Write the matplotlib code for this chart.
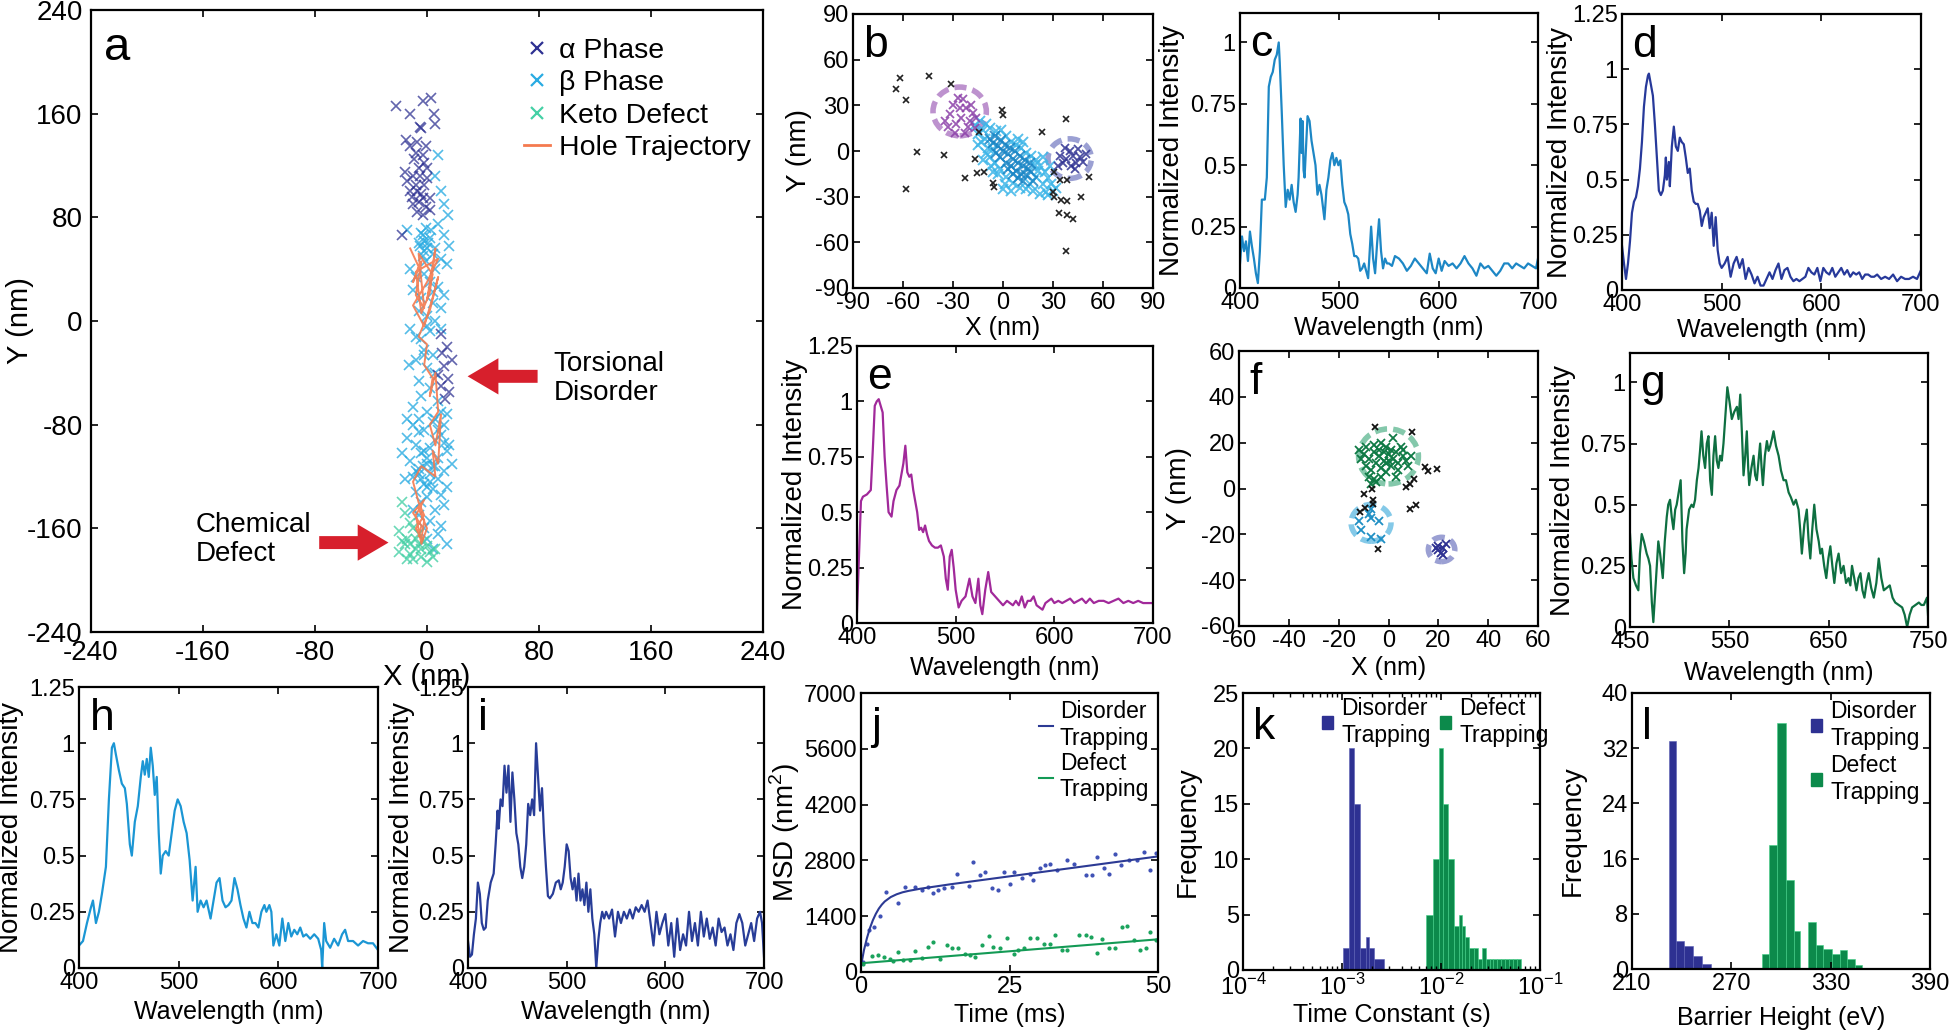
import numpy as np
import matplotlib
matplotlib.use("Agg")
import matplotlib.pyplot as plt
import matplotlib.patches as mpatches
from matplotlib.lines import Line2D

plt.rcParams["font.family"] = ["Liberation Sans", "DejaVu Sans"]
plt.rcParams["mathtext.fontset"] = "custom"
plt.rcParams["mathtext.rm"] = "Liberation Sans"
plt.rcParams["axes.linewidth"] = 1.6

W, H = 1954, 1034

# ---------------- panel a: localisation map ----------------
alpha_pts = [(-22, 166), (-12, 160), (-3, 170), (3, 172), (-5, 150), (-4, 149), (5, 160), (6, 152),
             (-15, 140), (-12, 135), (-8, 130), (-3, 128), (-16, 115), (-10, 112), (-6, 118), (-2, 122),
             (0, 110), (-8, 105), (-12, 100), (-4, 98), (-2, 105), (-6, 92), (-10, 90), (-1, 88), (2, 86),
             (-7, 84), (-3, 95), (-14, 108), (-9, 125), (-1, 135), (-5, 112), (-7, 100), (-3, 82), (0, 118),
             (-11, 96), (-18, 66), (-7, 138), (2, 95), (10, -10), (14, -20), (18, -30), (12, -35),
             (15, -45), (10, -50), (13, -60), (16, -55), (8, -42), (11, -25)]
beta_pts = [(8, 128), (6, 112), (10, 100), (12, 90), (15, 82), (8, 75), (-1, 72), (-4, 68), (2, 64), (-6, 60),
            (0, 56), (4, 52), (-3, 50), (10, 48), (14, 44), (-12, 40), (6, 40), (-8, 34), (2, 30), (8, 26),
            (-10, 24), (12, 20), (-4, 18), (4, 14), (10, 10), (-6, 8), (0, 4), (6, 0), (-12, -6), (2, -8),
            (-4, -14), (10, -6), (-2, -22), (4, -26), (-8, -30), (-13, -34), (0, -36), (6, -40), (-6, -46),
            (2, -52), (-4, -58), (8, -62), (-10, -66), (0, -70), (14, -72), (-6, -76), (4, -78), (12, -80),
            (-2, -84), (10, -88), (-14, -90), (6, -92), (-8, -96), (2, -98), (14, -100), (-4, -102),
            (8, -106), (-12, -108), (0, -110), (6, -112), (-6, -114), (12, -116), (2, -118), (-10, -120),
            (8, -122), (-2, -126), (14, -128), (4, -130), (-8, -132), (10, -134), (0, -136), (-4, -140),
            (12, -142), (6, -146), (-6, -150), (2, -154), (10, -158), (-2, -160), (8, -164), (0, -168),
            (14, -172), (4, -176), (-10, -146), (-16, -122), (-18, -102), (-14, -76), (16, -96), (18, -110),
            (-2, 62), (-3, 66), (-5, 58), (1, 60), (-2, 54), (3, 70), (-1, 46), (-6, -118), (-3, -112),
            (0, -106), (-4, -122), (2, -124), (-8, -116), (0, -128), (4, -112), (-2, -100), (10, -70),
            (6, -76), (-6, -86), (8, -84), (12, -94), (-10, -80), (0, -4), (-2, -26), (-8, -12), (4, 22),
            (-2, 36), (6, 56), (12, 66), (16, 58), (-14, 70)]
keto_pts = [(-18, -140), (-16, -148), (-20, -162), (-14, -168), (-10, -160), (-6, -172), (-20, -178),
            (-12, -180), (-4, -182), (0, -186), (-8, -176), (-16, -172), (-2, -170), (2, -178), (-10, -184),
            (-6, -164), (-12, -156), (4, -182), (-14, -184), (-18, -170), (-8, -168), (-4, -176), (0, -174),
            (-12, -172), (6, -176)]
hole_path = [(-12, 56), (-6, 42), (-10, 30), (-4, 46), (-8, 20), (-2, 10), (-6, 52), (4, 36), (0, 16), (6, 56),
             (2, 22), (-4, 6), (-8, 38), (8, 48), (0, 30), (-10, 12), (-2, -4), (4, 18), (8, 34), (2, 8),
             (-6, -12), (0, -18), (-2, -34), (4, -44), (2, -58), (6, -40), (8, -70), (2, -80), (6, -96),
             (10, -72), (8, -110), (4, -100), (6, -120), (-4, -112), (-10, -124), (-6, -140), (-2, -150),
             (-8, -160), (-4, -168), (-2, -154), (-6, -144), (0, -160), (-4, -172), (-8, -150), (-2, -138),
             (-10, -148), (-4, -158), (-6, -166)]

# ---------------- panel b ----------------
b_purple = [(-30, 30), (-25, 22), (-22, 28), (-28, 18), (-20, 20), (-24, 34), (-18, 25), (-32, 24), (-26, 28),
            (-21, 16), (-35, 20), (-29, 12), (-16, 22), (-23, 12), (-27, 35), (-19, 30), (-33, 16), (-17, 15)]
b_navy = [(38, -5), (42, -3), (44, -8), (36, -8), (40, 0), (46, -4), (48, -7), (34, -3), (41, -10), (37, 2),
          (45, 1), (50, -2), (43, -12), (33, -10)]
b_inner = [(0, 0), (3, -2), (6, -5), (9, -8), (12, -10), (-3, 3), (-6, 5), (2, -8), (5, -10), (8, -13),
           (11, -15), (-2, -4), (4, 2), (7, 0), (10, -3), (13, -6), (15, -12), (1, 4), (-4, -1), (6, -15),
           (14, -16), (17, -14), (-8, 8), (-1, 7), (9, -18), (3, -12), (16, -8), (12, -20), (18, -20), (-5, 10)]
b_outer = [(-17, 17), (-14, 20), (-12, 14), (-10, 18), (-15, 11), (-8, 15), (-11, 8), (-6, 1), (-9, 2),
           (-13, 6), (-4, 13), (-1, 14), (2, 10), (5, 6), (8, 4), (11, 2), (14, -1), (17, -3), (20, -6),
           (22, -10), (25, -14), (27, -18), (29, -22), (30, -26), (26, -27), (22, -28), (18, -26), (14, -25),
           (10, -24), (6, -21), (2, -17), (-2, -12), (-5, -8), (-8, -4), (-10, -1), (-12, -6), (-7, -10),
           (20, -17), (24, -22), (16, -22), (21, -13), (19, -9), (-3, -15), (1, -22), (5, -26), (28, -10),
           (24, -4), (12, 6), (0, -25), (27, -29), (32, -24), (-15, 4), (9, 8), (-6, -14)]
b_black = [(-61.6, 47.7), (-44.6, 49), (-64, 40.5), (-58, 33.5), (-31, 43.8), (-51.6, -0.4), (-35.6, -2.6),
           (-58, -25), (-22.6, -18), (-0.6, 27), (0, 23.6), (23.4, 12.5), (38, 21), (-16.6, -5.5),
           (-11.6, -13.6), (-6, -20.8), (-5.6, -23.4), (-14.6, 12.7), (30.4, -13.6), (34.4, -19), (38.4, -19),
           (51.4, -16.8), (29.8, -26.7), (30.4, -30), (34.6, -32), (38.4, -33), (47, -30), (33.4, -40.5),
           (38.4, -42), (42, -44.6), (38, -65.4), (-15.6, -14.7)]
b_circles = [(-26, 26, 16, "#b27fc6"), (40, -5, 13, "#8a90cc")]

# ---------------- panel f ----------------
f_green = [(-12, 17), (-10, 15), (-8, 13), (-6, 16), (-4, 14), (-2, 12), (0, 15), (2, 13), (4, 11), (6, 14),
           (8, 10), (-9, 10), (-7, 8), (-5, 11), (-3, 9), (-1, 7), (1, 10), (3, 16), (5, 18), (2, 22), (-6, 4),
           (-8, 5), (-3, 5), (-6, 19), (-1, 18), (1, 17), (4, 8), (7, 12), (9, 14), (-11, 13), (-4, 17),
           (-2, 16), (0, 12), (-7, 2), (-5, 3), (3, 5), (-9, 18), (-3, 20), (6, 17), (-1, 11)]
f_blue = [(-12, -14), (-11, -18), (-7, -9), (-7, -13), (-4, -14), (-7, -21), (-3, -22), (-8, -11)]
f_navy = [(20, -27), (22, -26), (21, -28), (23, -24), (19, -26), (22, -29), (20, -25)]
f_black = [(-5.5, 26.9), (9.6, 24.7), (14.6, 9.2), (15.9, 7.7), (19.5, 8.3), (7.2, 0.7), (8.8, 1.9),
           (10.3, 4.1), (-6.8, -0.4), (-9.9, -2.5), (-6.4, -5.1), (-6.4, -6.8), (-9.5, -8.7), (-11.5, -10.2),
           (8.8, -9), (11.2, -7.3), (-4.1, -26.5)]
f_circles = [(0, 14, 12, "#6fbf9c"), (-7, -15, 8, "#6fc0e4"), (21.3, -26.6, 5.3, "#8a90cc")]

# ---------------- spectra (wavelength nm, normalised intensity) ----------------
spec_c = [(400, .10), (402, .21), (404, .15), (406, .19), (408, .11), (410, .23), (412, .17), (414, .12),
          (416, .06), (418, .02), (420, .15), (422, .36), (425, .36), (427, .45), (429, .82), (431, .86),
          (433, .88), (435, .93), (437, .95), (439, 1.0), (440, .92), (442, .72), (444, .5), (446, .33),
          (448, .4), (450, .36), (452, .42), (454, .35), (456, .31), (458, .38), (459, .45), (461, .69),
          (462, .55), (463, .68), (464, .48), (465, .45), (468, .7), (470, .68), (472, .6), (474, .55),
          (476, .5), (478, .38), (480, .42), (482, .38), (485, .28), (487, .4), (489, .45), (491, .52),
          (493, .55), (495, .5), (497, .53), (499, .5), (501, .52), (503, .42), (505, .35), (507, .33),
          (509, .3), (511, .22), (513, .18), (515, .13), (517, .13), (519, .12), (521, .07), (523, .08),
          (525, .1), (527, .07), (529, .04), (532, .25), (534, .12), (536, .06), (538, .18), (540, .28),
          (542, .15), (544, .08), (546, .12), (548, .1), (550, .1), (553, .09), (556, .13), (560, .12),
          (564, .1), (568, .07), (572, .09), (576, .12), (580, .1), (584, .08), (588, .06), (591, .14),
          (594, .08), (597, .06), (600, .12), (603, .07), (606, .11), (610, .09), (614, .1), (618, .08),
          (622, .1), (626, .13), (630, .1), (634, .08), (638, .05), (642, .1), (646, .08), (650, .09),
          (654, .07), (658, .05), (662, .07), (666, .1), (670, .1), (674, .08), (678, .1), (682, .09),
          (686, .08), (690, .1), (694, .09), (698, .08), (700, .12)]
spec_d = [(400, .2), (402, .12), (404, .05), (406, .12), (408, .22), (410, .35), (412, .4), (414, .42),
          (416, .47), (418, .55), (420, .67), (422, .83), (424, .92), (426, .97), (427, .98), (429, .93),
          (431, .88), (433, .75), (435, .6), (437, .45), (439, .43), (441, .45), (443, .52), (444, .6),
          (445, .5), (447, .58), (448, .47), (450, .65), (452, .74), (454, .65), (456, .63), (458, .69),
          (460, .67), (462, .66), (464, .6), (466, .53), (468, .55), (470, .45), (472, .4), (474, .39),
          (476, .39), (478, .36), (480, .29), (482, .33), (484, .35), (486, .37), (488, .28), (490, .35),
          (492, .2), (494, .33), (496, .18), (498, .12), (500, .1), (503, .12), (506, .15), (509, .06),
          (512, .12), (515, .15), (518, .1), (521, .14), (524, .05), (527, .1), (530, .07), (533, .03),
          (536, .06), (539, .02), (542, .02), (545, .05), (548, .08), (551, .05), (554, .09), (557, .12),
          (560, .05), (563, .09), (566, .1), (569, .06), (572, .04), (575, .05), (578, .04), (581, .05),
          (584, .06), (587, .1), (590, .08), (593, .07), (596, .1), (599, .04), (602, .1), (605, .08),
          (608, .07), (611, .1), (614, .06), (617, .08), (620, .1), (623, .07), (626, .09), (629, .06),
          (632, .08), (635, .07), (638, .08), (641, .05), (644, .07), (647, .07), (650, .06), (653, .06),
          (656, .07), (660, .05), (664, .06), (668, .05), (672, .07), (676, .04), (680, .06), (684, .05),
          (688, .05), (692, .06), (696, .05), (700, .09)]
spec_e = [(400, .05), (402, .3), (404, .55), (406, .57), (410, .58), (414, .6), (416, .78), (418, .98),
          (420, 1.0), (422, 1.01), (424, .98), (426, .95), (428, .75), (430, .62), (432, .5), (435, .48),
          (437, .55), (440, .6), (443, .62), (445, .67), (447, .72), (449, .8), (451, .68), (453, .66),
          (455, .67), (457, .6), (459, .55), (461, .5), (463, .42), (465, .43), (467, .41), (469, .44),
          (471, .4), (473, .37), (476, .35), (479, .34), (482, .34), (485, .35), (488, .3), (490, .2),
          (492, .15), (494, .3), (496, .33), (498, .25), (500, .15), (503, .07), (506, .1), (510, .12),
          (514, .2), (517, .12), (520, .09), (523, .2), (525, .08), (527, .04), (530, .15), (533, .23),
          (536, .14), (540, .12), (544, .1), (548, .08), (552, .1), (555, .09), (558, .08), (561, .1),
          (564, .08), (567, .12), (570, .07), (573, .1), (576, .1), (579, .12), (582, .08), (585, .07),
          (588, .06), (591, .09), (594, .1), (597, .11), (600, .09), (604, .1), (608, .09), (612, .1),
          (616, .11), (620, .09), (624, .1), (628, .11), (632, .09), (636, .11), (640, .09), (645, .1),
          (650, .1), (655, .09), (660, .1), (665, .11), (670, .09), (675, .1), (680, .09), (685, .1),
          (690, .09), (695, .09), (700, .09)]
spec_g = [(450, .38), (451.5, .28), (453.4, .2), (456, .17), (458.4, .15), (460, .3), (461.8, .38), (464, .35),
          (466.8, .3), (468.5, .28), (470.2, .25), (472, .1), (473.5, .02), (475, .12), (476.9, .25),
          (478.5, .35), (480.3, .3), (483, .2), (485, .35), (487, .45), (488.5, .5), (490.3, .52),
          (492, .45), (493.7, .4), (495.5, .48), (497, .5), (499, .55), (501, .6), (502.8, .35),
          (504.5, .22), (506, .3), (507, .4), (509.5, .48), (512, .5), (513.8, .49), (515.5, .52),
          (517.3, .6), (519, .65), (520.5, .72), (522, .8), (523.8, .7), (525.6, .65), (527.3, .75),
          (529, .78), (530.7, .6), (532.4, .54), (534, .7), (535.7, .78), (537.4, .68), (539, .65),
          (540.7, .7), (542.4, .68), (544.1, .75), (545.8, .85), (548, .98), (550.2, .92), (552.5, .85),
          (555, .88), (557.6, .9), (559.3, .85), (561, .95), (562.6, .8), (564.3, .62), (566, .7),
          (567.6, .8), (569, .65), (570, .58), (572.2, .65), (574.4, .7), (576, .62), (577.7, .6),
          (579.4, .68), (581, .75), (582.5, .65), (583.8, .58), (585.8, .7), (587.8, .76), (589.5, .72),
          (591.2, .74), (593, .77), (594.5, .8), (597, .74), (599.6, .7), (602, .64), (604.6, .6),
          (607, .6), (609.7, .55), (612, .53), (614.7, .5), (617, .52), (619.7, .48), (621.3, .4),
          (623, .3), (625.5, .42), (628, .48), (629.7, .36), (631.5, .28), (633.5, .4), (635.5, .5),
          (637.7, .4), (640, .35), (641.6, .3), (643.3, .32), (645.5, .25), (647.6, .2), (649.7, .28),
          (651.7, .33), (653.7, .25), (655.7, .18), (657.8, .26), (660, .3), (662.5, .22), (665, .25),
          (667.5, .18), (670, .2), (671.8, .17), (673.5, .25), (675.8, .2), (678, .15), (680, .2),
          (682, .22), (684, .15), (686, .12), (688.2, .18), (690.3, .22), (692.8, .16), (695.4, .12),
          (698, .18), (700.4, .28), (703, .2), (705.5, .15), (708.5, .16), (711.5, .17), (714.3, .12),
          (717, .1), (720.5, .09), (724, .08), (726.5, .05), (729, .0), (731.5, .05), (734, .08),
          (737.4, .09), (740.8, .1), (743.3, .09), (745.8, .09), (748, .11), (749, .12), (750, .05)]
spec_h = [(400, .1), (404, .12), (408, .2), (412, .27), (414, .3), (417, .2), (420, .25), (423, .33),
          (427, .45), (430, .75), (433, .98), (435, 1.0), (437, .95), (440, .88), (443, .82), (446, .8),
          (448, .73), (451, .55), (453, .5), (456, .65), (459, .72), (462, .85), (464, .92), (466, .86),
          (468, .93), (470, .85), (472, .98), (474, .9), (476, .77), (478, .85), (480, .6), (482, .42),
          (484, .5), (487, .52), (490, .5), (493, .6), (496, .7), (499, .75), (502, .72), (505, .65),
          (508, .6), (511, .48), (514, .3), (517, .45), (519, .25), (522, .3), (525, .27), (528, .3),
          (532, .22), (535, .3), (538, .38), (541, .4), (544, .3), (547, .27), (550, .28), (553, .3),
          (556, .4), (559, .35), (562, .28), (565, .22), (568, .18), (571, .25), (574, .2), (577, .2),
          (580, .18), (583, .25), (586, .28), (588, .25), (591, .28), (593, .25), (595, .1), (598, .15),
          (601, .1), (604, .22), (607, .12), (610, .2), (613, .14), (616, .17), (619, .15), (622, .18),
          (625, .14), (628, .15), (632, .13), (636, .15), (640, .13), (643, .08), (644, .0), (646, .2),
          (648, .12), (652, .09), (656, .13), (660, .1), (664, .15), (667, .17), (670, .12), (675, .12),
          (680, .1), (685, .12), (690, .11), (695, .11), (700, .08)]
spec_i = [(400, .12), (402, .05), (404, .06), (406, .15), (408, .22), (410, .38), (412, .33), (414, .2),
          (416, .17), (418, .18), (420, .3), (423, .38), (426, .42), (428, .55), (430, .7), (431, .62),
          (433, .75), (435, .72), (437, .9), (439, .78), (441, .9), (443, .65), (445, .87), (447, .75),
          (449, .6), (451, .55), (453, .45), (455, .4), (457, .45), (459, .55), (461, .73), (463, .68),
          (465, .75), (467, .68), (469, 1.0), (471, .85), (473, .7), (475, .8), (477, .6), (479, .45),
          (481, .32), (483, .31), (486, .33), (489, .38), (492, .39), (494, .35), (496, .38), (498, .45),
          (500, .55), (502, .52), (504, .4), (506, .35), (508, .4), (510, .3), (512, .42), (514, .3),
          (516, .35), (518, .28), (520, .38), (522, .25), (524, .35), (526, .22), (528, .15), (530, .0),
          (532, .12), (534, .2), (536, .25), (538, .22), (540, .25), (543, .22), (546, .26), (549, .14),
          (552, .25), (555, .2), (558, .25), (561, .22), (564, .26), (567, .22), (570, .27), (573, .25),
          (576, .28), (579, .25), (582, .3), (585, .2), (588, .1), (591, .25), (594, .15), (597, .2),
          (600, .24), (603, .1), (606, .2), (609, .05), (612, .22), (615, .08), (618, .15), (621, .1),
          (624, .25), (627, .12), (630, .2), (633, .1), (636, .25), (639, .14), (642, .22), (645, .13),
          (648, .18), (651, .1), (654, .22), (657, .16), (660, .18), (663, .1), (666, .15), (669, .08),
          (672, .2), (675, .24), (678, .2), (681, .1), (684, .15), (687, .2), (690, .12), (693, .22),
          (696, .25), (698, .2), (700, .05)]

# ---------------- panel j: MSD (time ms, nm^2) ----------------
disorder_pts = [(0.4, 250), (1, 710), (1.4, 1050), (2.2, 1130), (3.2, 1400), (4.2, 2010), (6.3, 1740),
                (7.4, 2140), (9.1, 2140), (10.2, 2050), (11.3, 2140), (12.2, 1970), (13, 2050), (13.9, 2100),
                (15.3, 2140), (16.1, 2470), (18.1, 2150), (18.9, 2770), (20, 2430), (20.9, 2510), (22, 2100),
                (23.1, 2050), (24, 2510), (25.1, 2200), (25.7, 2510), (27.1, 2350), (28.5, 2470), (29, 2300),
                (30.2, 2600), (31, 2680), (31.9, 2720), (33, 2560), (34.6, 2810), (35.8, 2720), (37.8, 2430),
                (38.9, 2430), (39.7, 2890), (40.9, 2600), (41.7, 2470), (42.8, 2970), (43.7, 2680),
                (45.1, 2810), (46.5, 2810), (47.6, 3020), (48.6, 2560), (49.6, 2990)]
disorder_fit = [(0, 150), (0.5, 550), (1, 850), (1.5, 1100), (2, 1300), (2.5, 1460), (3, 1590), (3.5, 1690),
                (4, 1770), (5, 1880), (6, 1950), (7, 2000), (8, 2035), (10, 2090), (15, 2200), (20, 2300),
                (30, 2500), (40, 2700), (50, 2900)]
defect_pts = [(0.4, 210), (1.8, 390), (2.9, 420), (3.8, 380), (4.8, 335), (5.4, 270), (6.3, 500), (7.1, 290),
              (8.3, 290), (9.1, 520), (10.2, 360), (11.3, 630), (12.2, 750), (13.3, 335), (14.4, 670),
              (15.3, 610), (16.4, 610), (17.5, 460), (18.4, 420), (19.2, 380), (20.3, 670), (21.5, 900),
              (22.3, 630), (23.4, 600), (24.6, 850), (25.7, 440), (26.5, 545), (27.4, 590), (28.5, 855),
              (29.6, 855), (30.8, 700), (31.9, 700), (32.7, 920), (33.9, 545), (34.7, 545), (36.7, 920),
              (37.8, 920), (38.7, 880), (39.7, 480), (40.6, 840), (41.7, 610), (42.8, 610), (43.9, 1130),
              (44.8, 1160), (45.9, 800), (47, 545), (47.9, 600), (48.7, 1010), (49.6, 800)]
defect_fit = [(0, 220), (50, 820)]

# ---------------- panel k: time-constant histograms (s) ----------------
k_blue_edges = [1.023e-3, 1.178e-3, 1.32e-3, 1.507e-3, 1.734e-3, 1.875e-3, 2.089e-3, 2.636e-3]
k_blue_counts = [2, 20, 15, 2, 3, 2, 1]
k_green_edges = [7.08e-3, 8.32e-3, 9.55e-3, 1.047e-2, 1.175e-2, 1.349e-2, 1.514e-2, 1.622e-2, 1.738e-2,
                 1.905e-2, 2.138e-2, 2.344e-2, 2.57e-2, 2.818e-2, 3.09e-2, 3.388e-2, 3.715e-2, 4.074e-2,
                 4.467e-2, 4.898e-2, 5.37e-2, 5.888e-2, 6.457e-2]
k_green_counts = [5, 10, 20, 15, 10, 4, 5, 4, 3, 2, 2, 1, 2, 1, 1, 1, 1, 1, 1, 1, 1, 1]

# ---------------- panel l: barrier-height histograms (eV) ----------------
l_blue_edges = [232.1, 236.8, 241.6, 246.8, 252.3, 257.7]
l_blue_counts = [33, 4, 3.4, 1.9, 0.7]
l_green_edges_1 = [288.5, 292.5, 297.5, 303, 307.6, 311.6]
l_green_counts_1 = [2.2, 18, 35.6, 12.9, 5.5]
l_green_edges_2 = [316.2, 321, 325.3, 330.7, 335.4, 339.8, 344.8, 349.2]
l_green_counts_2 = [6.8, 3.5, 2.9, 2.2, 2.8, 1.4, 0.6]

NAVY = "#2e3192"
SKY = "#29abe2"
KETO = "#45d0a5"
HOLE = "#f47a4f"
RED = "#d71f2c"
GREEN = "#0c8a4b"
TICK_FS = 17


def make_ax(fig, box):
    l, t, r, b = box
    return fig.add_axes([l / W, 1 - b / H, (r - l) / W, (b - t) / H])


def style(ax, fs=TICK_FS, pad=3):
    ax.tick_params(which="both", direction="in", top=True, right=True, labelsize=fs, pad=pad)
    ax.tick_params(which="major", length=5, width=1.2)
    ax.tick_params(which="minor", length=3, width=1)


def labels(ax, xl, yl, xy, yx, xfs=18, yfs=20):
    ax.set_xlabel(xl, fontsize=xfs)
    ax.set_ylabel(yl, fontsize=yfs, va="center")
    ax.xaxis.set_label_coords(0.5, -xy)
    ax.yaxis.set_label_coords(yx, 0.5)


def letter(ax, s, x=0.035, y=0.96, fs=32):
    ax.text(x, y, s, transform=ax.transAxes, fontsize=fs, ha="left", va="top")


def xy(pts):
    a = np.array(pts, dtype=float)
    return a[:, 0], a[:, 1]


def spectrum(ax, pts, color, xticks, ytop, yticks, yticklabels, let, xy_, yx_):
    x, y = xy(pts)
    ax.plot(x, y, color=color, lw=1.6)
    ax.set_xlim(xticks[0], xticks[-1])
    ax.set_ylim(0, ytop)
    ax.set_xticks(xticks, [str(t) for t in xticks])
    ax.set_yticks(yticks, yticklabels)
    style(ax)
    labels(ax, "Wavelength (nm)", "Normalized Intensity", xy_, yx_)
    letter(ax, let)


fig = plt.figure(figsize=(W / 100, H / 100), dpi=100)

# ---- a
ax = make_ax(fig, (91, 10, 763, 632))
x, y = xy(beta_pts)
ax.plot(x, y, "x", ms=7.5, mew=1.2, color=SKY, alpha=0.8)
x, y = xy(keto_pts)
ax.plot(x, y, "x", ms=7.5, mew=1.2, color=KETO, alpha=0.8)
x, y = xy(alpha_pts)
ax.plot(x, y, "x", ms=7.5, mew=1.2, color=NAVY, alpha=0.75)
x, y = xy(hole_path)
ax.plot(x, y, "-", lw=1.4, color=HOLE, alpha=0.9)
ax.arrow(79, -42.7, -50, 0, width=10, head_width=28, head_length=22,
         length_includes_head=True, color=RED, lw=0)
ax.arrow(-77, -171, 49.5, 0, width=10, head_width=28, head_length=22,
         length_includes_head=True, color=RED, lw=0)
ax.text(90.5, -44.5, "Torsional\nDisorder", fontsize=20, ha="left", va="center", linespacing=1.15)
ax.text(-165.5, -168.7, "Chemical\nDefect", fontsize=20, ha="left", va="center", linespacing=1.15)
ticks = list(range(-240, 241, 80))
ax.set_xlim(-240, 240)
ax.set_ylim(-240, 240)
ax.set_xticks(ticks, [str(t) for t in ticks])
ax.set_yticks(ticks, [str(t) for t in ticks])
style(ax, fs=20, pad=6)
labels(ax, "X (nm)", "Y (nm)", 0.05, -0.106, xfs=21, yfs=21)
letter(ax, "a", x=0.02, y=0.975, fs=34)
handles = [Line2D([], [], marker="x", ls="none", color=NAVY, ms=8, mew=1.6),
           Line2D([], [], marker="x", ls="none", color=SKY, ms=8, mew=1.6),
           Line2D([], [], marker="x", ls="none", color=KETO, ms=8, mew=1.6),
           Line2D([], [], color=HOLE, lw=2)]
ax.legend(handles, ["α Phase", "β Phase", "Keto Defect", "Hole Trajectory"], loc="upper left",
          bbox_to_anchor=(0.645, 0.955), frameon=False, fontsize=20.5, handlelength=0.9,
          handletextpad=0.3, labelspacing=0.22, borderpad=0, borderaxespad=0)

# ---- b
ax = make_ax(fig, (853, 14, 1153, 288))
for cx, cy, r, c in b_circles:
    ax.add_patch(mpatches.Circle((cx, cy), r, fill=False, ec=c, lw=4, ls=(0, (2.2, 1.1)), alpha=0.85))
x, y = xy(b_outer)
ax.plot(x, y, "x", ms=7, mew=1.4, color="#3cb5e8", alpha=0.85)
x, y = xy(b_inner)
ax.plot(x, y, "x", ms=7, mew=1.4, color="#1a86c6", alpha=0.85)
x, y = xy(b_purple)
ax.plot(x, y, "x", ms=5.5, mew=1.3, color="#8b3fa8", alpha=0.85)
x, y = xy(b_navy)
ax.plot(x, y, "x", ms=5.5, mew=1.3, color=NAVY, alpha=0.85)
x, y = xy(b_black)
ax.plot(x, y, "x", ms=4, mew=1.2, color="#222222")
ticks = list(range(-90, 91, 30))
ax.set_xlim(-90, 90)
ax.set_ylim(-90, 90)
ax.set_xticks(ticks, [str(t) for t in ticks])
ax.set_yticks(ticks, [str(t) for t in ticks])
style(ax)
labels(ax, "X (nm)", "Y (nm)", 0.102, -0.18)
letter(ax, "b")

# ---- c, d, e, g, h, i spectra
quarter = [0, 0.25, 0.5, 0.75, 1]
quarter_lab = ["0", "0.25", "0.5", "0.75", "1"]
five = [0, 0.25, 0.5, 0.75, 1, 1.25]
five_lab = ["0", "0.25", "0.5", "0.75", "1", "1.25"]

ax = make_ax(fig, (1240, 13, 1538, 288))
spectrum(ax, spec_c, "#1d87c5", [400, 500, 600, 700], 1.12, quarter, quarter_lab, "c", 0.102, -0.228)
ax = make_ax(fig, (1622, 14, 1921, 290))
spectrum(ax, spec_d, "#27399a", [400, 500, 600, 700], 1.25, five, five_lab, "d", 0.1, -0.207)
ax = make_ax(fig, (857, 346, 1153, 623))
spectrum(ax, spec_e, "#a1299a", [400, 500, 600, 700], 1.25, five, five_lab, "e", 0.12, -0.21)
ax = make_ax(fig, (1630, 353, 1928, 627))
spectrum(ax, spec_g, "#0e6f41", [450, 550, 650, 750], 1.12, quarter, quarter_lab, "g", 0.124, -0.225)
ax = make_ax(fig, (79, 687, 378, 968))
spectrum(ax, spec_h, "#1b96d4", [400, 500, 600, 700], 1.25, five, five_lab, "h", 0.114, -0.227)
ax = make_ax(fig, (468, 687, 764, 968))
spectrum(ax, spec_i, "#283d98", [400, 500, 600, 700], 1.25, five, five_lab, "i", 0.114, -0.223)

# ---- f
ax = make_ax(fig, (1239, 351, 1538, 626))
for cx, cy, r, c in f_circles:
    ax.add_patch(mpatches.Circle((cx, cy), r, fill=False, ec=c, lw=4, ls=(0, (2.2, 1.1)), alpha=0.85))
x, y = xy(f_green)
ax.plot(x, y, "x", ms=6, mew=1.3, color="#0f7a45")
x, y = xy(f_blue)
ax.plot(x, y, "x", ms=6, mew=1.3, color="#1f8fc4")
x, y = xy(f_navy)
ax.plot(x, y, "x", ms=6, mew=1.3, color=NAVY)
x, y = xy(f_black)
ax.plot(x, y, "x", ms=5, mew=1.3, color="#111111")
ticks = list(range(-60, 61, 20))
ax.set_xlim(-60, 60)
ax.set_ylim(-60, 60)
ax.set_xticks(ticks, [str(t) for t in ticks])
ax.set_yticks(ticks, [str(t) for t in ticks])
style(ax)
labels(ax, "X (nm)", "Y (nm)", 0.11, -0.2)
letter(ax, "f")

# ---- j
ax = make_ax(fig, (861, 693, 1158, 972))
x, y = xy(disorder_pts)
ax.plot(x, y, ".", ms=4, color="#3f51b5")
x, y = xy(defect_pts)
ax.plot(x, y, ".", ms=4, color="#1aa35c")
x, y = xy(disorder_fit)
ax.plot(x, y, "-", lw=1.5, color="#2c3a94", label="Disorder\nTrapping")
x, y = xy(defect_fit)
ax.plot(x, y, "-", lw=1.5, color="#139a55", label="Defect\nTrapping")
ax.set_xlim(0, 50)
ax.set_ylim(0, 7000)
ax.set_xticks([0, 25, 50], ["0", "25", "50"])
yt = list(range(0, 7001, 1400))
ax.set_yticks(yt, [str(t) for t in yt])
style(ax)
labels(ax, "Time (ms)", "MSD (nm$^2$)", 0.11, -0.256)
letter(ax, "j", y=0.95)
ax.legend(loc="upper left", bbox_to_anchor=(0.6, 0.975), frameon=False, fontsize=16.5, handlelength=0.6,
          handletextpad=0.3, labelspacing=0.1, borderpad=0, borderaxespad=0)

# ---- k
ax = make_ax(fig, (1243, 693, 1540, 970))
e = np.array(k_blue_edges)
ax.bar(e[:-1], k_blue_counts, width=np.diff(e), align="edge", color=NAVY, ec="#5a5fb4", lw=0.4)
e = np.array(k_green_edges)
ax.bar(e[:-1], k_green_counts, width=np.diff(e), align="edge", color=GREEN, ec="#3fcf86", lw=0.4)
ax.set_xscale("log")
ax.set_xlim(1e-4, 1e-1)
ax.set_ylim(0, 25)
ax.set_xticks([1e-4, 1e-3, 1e-2, 1e-1], ["$10^{-4}$", "$10^{-3}$", "$10^{-2}$", "$10^{-1}$"])
yt = list(range(0, 26, 5))
ax.set_yticks(yt, [str(t) for t in yt])
style(ax)
labels(ax, "Time Constant (s)", "Frequency", 0.12, -0.185)
letter(ax, "k", y=0.95)
hk = [mpatches.Patch(color=NAVY), mpatches.Patch(color=GREEN)]
ax.legend(hk, ["Disorder\nTrapping", "Defect\nTrapping"], ncol=2, loc="upper left",
          bbox_to_anchor=(0.265, 0.985), frameon=False, fontsize=16.5, handlelength=0.5, handleheight=0.5,
          handletextpad=0.35, columnspacing=0.4, borderpad=0, borderaxespad=0)

# ---- l
ax = make_ax(fig, (1632, 693, 1930, 969))
e = np.array(l_blue_edges)
ax.bar(e[:-1], l_blue_counts, width=np.diff(e), align="edge", color=NAVY, ec="#5a5fb4", lw=0.4)
for edges, counts in [(l_green_edges_1, l_green_counts_1), (l_green_edges_2, l_green_counts_2)]:
    e = np.array(edges)
    ax.bar(e[:-1], counts, width=np.diff(e), align="edge", color=GREEN, ec="#3fcf86", lw=0.4)
ax.set_xlim(210, 390)
ax.set_ylim(0, 40)
ax.set_xticks([210, 270, 330, 390], ["210", "270", "330", "390"])
yt = list(range(0, 41, 8))
ax.set_yticks(yt, [str(t) for t in yt])
style(ax)
labels(ax, "Barrier Height (eV)", "Frequency", 0.134, -0.2)
letter(ax, "l", y=0.95)
ax.legend(hk, ["Disorder\nTrapping", "Defect\nTrapping"], loc="upper left",
          bbox_to_anchor=(0.6, 0.975), frameon=False, fontsize=16.5, handlelength=0.5, handleheight=0.5,
          handletextpad=0.35, labelspacing=0.2, borderpad=0, borderaxespad=0)

fig.savefig("out.png", dpi=100)
